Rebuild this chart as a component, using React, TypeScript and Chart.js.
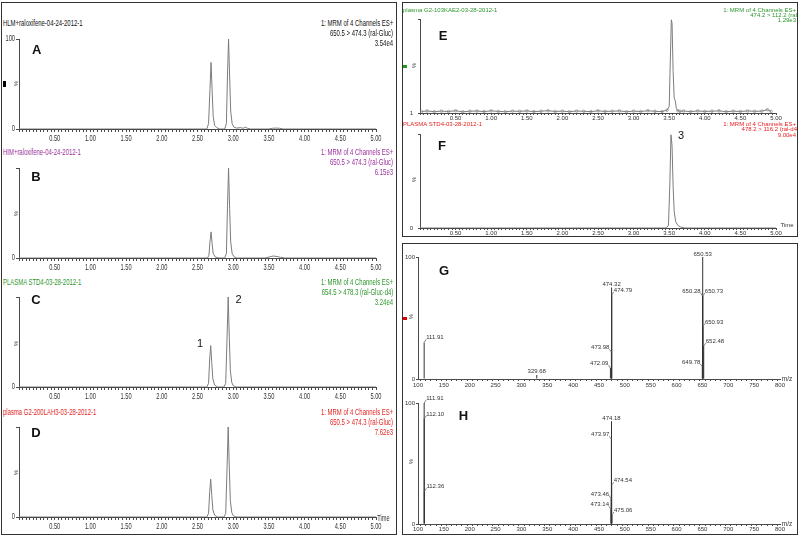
import React, { useEffect, useRef } from 'react';
import { Chart, registerables } from 'chart.js';

Chart.register(...registerables);

// ---------------- DATA ----------------
const TIME_TICKS = [0.5, 1, 1.5, 2, 2.5, 3, 3.5, 4, 4.5, 5];
const TIME_TICK_LABELS = ['0.50', '1.00', '1.50', '2.00', '2.50', '3.00', '3.50', '4.00', '4.50', '5.00'];
const MZ_TICKS = [100, 150, 200, 250, 300, 350, 400, 450, 500, 550, 600, 650, 700, 750, 800];
const MZ_TICK_LABELS = ['100', '150', '200', '250', '300', '350', '400', '450', '500', '550', '600', '650', '700', '750', '800'];
const PCT_TICKS = [0, 100];
const PCT_LABELS = ['0', '100'];
const ZERO_TICKS = [0];
const ZERO_LABELS = ['0'];
const ONE_TICKS = [1];
const ONE_LABELS = ['1'];

// Panel A  HLM + raloxifene, 650.5 > 474.3
const TIME_A = [0, 2.63, 2.655, 2.675, 2.69, 2.705, 2.72, 2.74, 2.77, 2.81, 2.88, 2.905, 2.92, 2.935, 2.95, 2.965, 2.985, 3.01, 3.05, 3.10, 3.14, 3.17, 3.20, 3.24, 3.50, 3.55, 3.60, 3.65, 3.70, 5.0];
const INT_A = [0, 0, 6, 45, 74, 42, 14, 4, 1.5, 0, 0, 6, 60, 100, 58, 20, 6, 2, 1, 1.5, 0.8, 2, 0.8, 0, 0, 0.8, 1, 0.8, 0, 0];
// Panel B  HIM + raloxifene
const TIME_B = [0, 2.64, 2.66, 2.675, 2.69, 2.705, 2.72, 2.75, 2.80, 2.88, 2.905, 2.92, 2.935, 2.95, 2.965, 2.985, 3.01, 3.05, 3.45, 3.52, 3.56, 3.60, 3.66, 3.72, 5.0];
const INT_B = [0, 0, 3, 18, 29, 16, 5, 1, 0, 0, 5, 58, 100, 55, 18, 5, 1.5, 0, 0, 1.5, 2.2, 1.8, 0.8, 0, 0];
// Panel C  plasma STD4, 654.5 > 478.3
const TIME_C = [0, 2.63, 2.655, 2.67, 2.685, 2.70, 2.715, 2.74, 2.78, 2.87, 2.895, 2.915, 2.93, 2.945, 2.96, 2.98, 3.00, 3.04, 5.0];
const INT_C = [0, 0, 4, 30, 46, 27, 9, 2, 0, 0, 4, 58, 100, 56, 18, 5, 1.5, 0, 0];
// Panel D  plasma G2-200LAH3
const TIME_D = [0, 2.63, 2.655, 2.67, 2.685, 2.70, 2.715, 2.74, 2.78, 2.87, 2.895, 2.915, 2.93, 2.945, 2.96, 2.98, 3.00, 3.04, 5.0];
const INT_D = [0, 0, 4, 27, 42, 24, 8, 2, 0, 0, 4, 58, 100, 56, 18, 5, 1.5, 0, 0];
// Panel E  plasma G2-103KAE2, 474.2 > 112.2
const TIME_E = [0.02, 0.1, 0.2, 0.3, 0.4, 0.5, 0.6, 0.7, 0.8, 0.9, 1.0, 1.1, 1.2, 1.3, 1.4, 1.5, 1.6, 1.7, 1.8, 1.9, 2.0, 2.1, 2.2, 2.3, 2.4, 2.5, 2.6, 2.7, 2.8, 2.9, 3.0, 3.1, 3.2, 3.3, 3.4,
  3.47, 3.50, 3.515, 3.53, 3.54, 3.555, 3.57, 3.585, 3.60, 3.62, 3.65,
  3.7, 3.8, 3.9, 4.0, 4.1, 4.2, 4.3, 4.4, 4.5, 4.6, 4.7, 4.8, 4.88, 4.93];
const INT_E = [2.5, 3.2, 2.4, 3.0, 2.6, 3.4, 2.3, 2.9, 3.1, 2.5, 3.3, 2.7, 2.4, 3.0, 2.8, 3.2, 2.5, 2.9, 3.4, 2.6, 3.0, 2.4, 3.1, 2.8, 2.5, 3.3, 2.7, 2.9, 3.2, 2.4, 3.0, 2.6, 3.4, 2.8, 2.5,
  4, 8, 55, 100, 96, 45, 17, 14, 6, 3.5, 2.8,
  3.1, 2.5, 3.2, 2.7, 2.9, 3.3, 2.4, 3.0, 2.6, 3.2, 2.8, 3.0, 4.5, 2.6];
// Panel F  plasma STD4, 478.2 > 116.2
const TIME_F = [0, 3.46, 3.49, 3.51, 3.525, 3.54, 3.555, 3.57, 3.59, 3.62, 3.66, 3.72, 5.0];
const INT_F = [0, 0, 3, 50, 100, 88, 45, 18, 7, 3, 1, 0, 0];
// Panel G  product spectrum
const G_MZ = [111.91, 329.68, 472.09, 473.98, 474.32, 474.79, 649.78, 650.28, 650.53, 650.73, 650.93, 652.48];
const G_INT = [30, 3.3, 9, 22, 75, 69, 10, 68, 100, 68, 43, 27];
const G_SIDE = ['r', 'c', 'l', 'l', 'c', 'r', 'l', 'l', 'c', 'r', 'r', 'r'];
// Panel H  product spectrum
const H_MZ = [111.91, 112.10, 112.36, 473.14, 473.46, 473.97, 474.18, 474.54, 475.06];
const H_INT = [100, 87, 27, 12, 21, 70, 85, 32, 7.5];
const H_SIDE = ['r', 'r', 'r', 'l', 'l', 'l', 'c', 'r', 'r'];

// ---------------- STYLE ----------------
const SANS = "'Liberation Sans', Arial, sans-serif";
const TRACE = '#7c7c7c';
const STICK = '#333';
const AXIS = '#4a4a4a';
const AXIS_TXT = '#333';
const PURPLE = '#9c2f9c';
const GREEN = '#2c962c';
const RED = '#e52222';

const labelFrom = (ticks: number[], labels: string[]) => (v: number) => {
  const i = ticks.findIndex((t) => Math.abs(t - v) < 1e-6);
  return i >= 0 ? labels[i] : '';
};

type Ann = { mz: number[]; int: number[]; side: string[] };
type Panel = {
  id: string; kind: 'trace' | 'stick';
  x0: number; x1: number; yTop: number; yBot: number;
  padL: number; padR: number; padT: number; padB: number;
  xMin: number; xMax: number; xStep: number; xLabel: (v: number) => string;
  yMin: number; yMax: number; yStep: number; yLabel: (v: number) => string;
  fs: number; tl: number; xPad: number; yPad: number; squeeze: number;
  xs: number[]; ys: number[]; marks?: boolean; ann?: Ann;
};

const timeLabel = labelFrom(TIME_TICKS, TIME_TICK_LABELS);
const mzLabel = labelFrom(MZ_TICKS, MZ_TICK_LABELS);

const leftPanel = (id: string, yTop: number, xs: number[], ys: number[], yl: (v: number) => string): Panel => ({
  id, kind: 'trace', x0: 19, x1: 376, yTop, yBot: yTop + 90, padL: 19, padR: 22, padT: 8, padB: 16,
  xMin: 0, xMax: 5, xStep: 0.05, xLabel: timeLabel, yMin: 0, yMax: 100, yStep: 100, yLabel: yl,
  fs: 9, tl: 3, xPad: 1.5, yPad: 1, squeeze: 0.63, xs, ys,
});

const PANELS: Panel[] = [
  leftPanel('A', 39, TIME_A, INT_A, labelFrom(PCT_TICKS, PCT_LABELS)),
  leftPanel('B', 168, TIME_B, INT_B, labelFrom(ZERO_TICKS, ZERO_LABELS)),
  leftPanel('C', 297, TIME_C, INT_C, labelFrom(ZERO_TICKS, ZERO_LABELS)),
  leftPanel('D', 427, TIME_D, INT_D, labelFrom(ZERO_TICKS, ZERO_LABELS)),
  {
    id: 'E', kind: 'trace', x0: 420, x1: 776, yTop: 17, yBot: 113, padL: 18, padR: 20, padT: 6, padB: 12,
    xMin: 0, xMax: 5, xStep: 0.05, xLabel: timeLabel, yMin: 1, yMax: 100, yStep: 99, yLabel: labelFrom(ONE_TICKS, ONE_LABELS),
    fs: 6, tl: 2, xPad: 0, yPad: 5, squeeze: 1, xs: TIME_E, ys: INT_E, marks: true,
  },
  {
    id: 'F', kind: 'trace', x0: 420, x1: 776, yTop: 132, yBot: 228, padL: 18, padR: 20, padT: 6, padB: 12,
    xMin: 0, xMax: 5, xStep: 0.05, xLabel: timeLabel, yMin: 0, yMax: 100, yStep: 100, yLabel: labelFrom(ZERO_TICKS, ZERO_LABELS),
    fs: 6, tl: 2, xPad: 0, yPad: 5, squeeze: 1, xs: TIME_F, ys: INT_F,
  },
  {
    id: 'G', kind: 'stick', x0: 418, x1: 780, yTop: 257, yBot: 379, padL: 15, padR: 16, padT: 13, padB: 12,
    xMin: 100, xMax: 800, xStep: 10, xLabel: mzLabel, yMin: 0, yMax: 100, yStep: 100, yLabel: labelFrom(PCT_TICKS, PCT_LABELS),
    fs: 6, tl: 2, xPad: 1, yPad: 1, squeeze: 1, xs: G_MZ, ys: G_INT, ann: { mz: G_MZ, int: G_INT, side: G_SIDE },
  },
  {
    id: 'H', kind: 'stick', x0: 418, x1: 780, yTop: 403, yBot: 524, padL: 15, padR: 16, padT: 13, padB: 12,
    xMin: 100, xMax: 800, xStep: 10, xLabel: mzLabel, yMin: 0, yMax: 100, yStep: 100, yLabel: labelFrom(PCT_TICKS, PCT_LABELS),
    fs: 6, tl: 2, xPad: 0, yPad: 1, squeeze: 1, xs: H_MZ, ys: H_INT, ann: { mz: H_MZ, int: H_INT, side: H_SIDE },
  },
];

// condensed tick text (the original figure's lettering is horizontally compressed)
const makeSqueezePlugin = (k: number) => ({
  id: 'squeezeText',
  beforeInit(chart: any) {
    if (k === 1) return;
    const ctx = chart.ctx;
    const orig = ctx.fillText.bind(ctx);
    ctx.fillText = (text: string, x: number, y: number, maxW?: number) => {
      ctx.save();
      ctx.translate(x, y);
      ctx.scale(k, 1);
      if (maxW !== undefined && maxW !== null) orig(text, 0, 0, maxW / k); else orig(text, 0, 0);
      ctx.restore();
    };
  },
});

const makeAnnPlugin = (ann: Ann) => ({
  id: 'stickLabels',
  afterDatasetsDraw(chart: any) {
    const { ctx, scales } = chart;
    const xs = scales.x, ys = scales.y;
    ctx.save();
    ctx.font = `6px ${SANS}`;
    ctx.fillStyle = '#333';
    ctx.strokeStyle = '#666';
    ctx.lineWidth = 0.8;
    ctx.textBaseline = 'alphabetic';
    ann.mz.forEach((m, i) => {
      const px = xs.getPixelForValue(m);
      const py = ys.getPixelForValue(ann.int[i]);
      const txt = m.toFixed(2);
      const side = ann.side[i];
      if (side === 'c') {
        ctx.textAlign = 'center';
        ctx.fillText(txt, px, py - 1.5);
      } else {
        const dir = side === 'r' ? 1 : -1;
        ctx.beginPath();
        ctx.moveTo(px, py);
        ctx.lineTo(px + dir * 2, py - 3);
        ctx.stroke();
        ctx.textAlign = side === 'r' ? 'left' : 'right';
        ctx.fillText(txt, px + dir * 2, py - 3);
      }
    });
    ctx.restore();
  },
});

function ChartPanel({ p }: { p: Panel }) {
  const ref = useRef<HTMLCanvasElement>(null);
  const W = Math.round(p.x1 - p.x0 + p.padL + p.padR);
  const H = Math.round(p.yBot - p.yTop + p.padT + p.padB);
  useEffect(() => {
    const cv = ref.current;
    if (!cv) return;
    const pts = p.xs.map((x, i) => ({ x, y: p.ys[i] }));
    const ds: any = p.kind === 'trace'
      ? {
        type: 'line', data: pts, borderColor: TRACE, borderWidth: 1, tension: 0, fill: false,
        pointRadius: p.marks ? (c: any) => (c.raw && c.raw.y < 5 ? 1.3 : 0) : 0,
        pointBackgroundColor: 'rgba(255,255,255,0)', pointBorderColor: '#8a8a8a', pointBorderWidth: 0.7,
      }
      : { type: 'bar', data: pts, backgroundColor: STICK, barThickness: 1, borderWidth: 0, inflateAmount: 0 };
    const axisCommon = (pos: string) => ({
      position: pos,
      grid: { display: true, drawOnChartArea: false, drawTicks: true, tickLength: p.tl, color: AXIS, tickColor: AXIS, lineWidth: 1 },
      border: { display: true, color: AXIS, width: 1 },
    });
    const plugins: any[] = [makeSqueezePlugin(p.squeeze)];
    if (p.ann) plugins.push(makeAnnPlugin(p.ann));
    const chart = new Chart(cv, {
      type: p.kind === 'trace' ? 'line' : 'bar',
      data: { datasets: [ds] },
      options: {
        animation: false, responsive: false, maintainAspectRatio: false, devicePixelRatio: 1, events: [],
        layout: { padding: { left: 0, right: p.padR, top: p.padT, bottom: 0 } },
        plugins: { legend: { display: false }, tooltip: { enabled: false } },
        scales: {
          x: {
            ...axisCommon('bottom'), type: 'linear', min: p.xMin, max: p.xMax, offset: false,
            afterFit: (s: any) => { s.height = p.padB; },
            ticks: {
              stepSize: p.xStep, autoSkip: false, maxRotation: 0, minRotation: 0, padding: p.xPad,
              color: AXIS_TXT, font: { family: SANS, size: p.fs },
              callback: (v: any) => p.xLabel(Number(v)),
            },
          },
          y: {
            ...axisCommon('left'), type: 'linear', min: p.yMin, max: p.yMax,
            afterFit: (s: any) => { s.width = p.padL; },
            ticks: {
              stepSize: p.yStep, autoSkip: false, padding: p.yPad,
              color: AXIS_TXT, font: { family: SANS, size: p.fs },
              callback: (v: any) => p.yLabel(Number(v)),
            },
          },
        },
      } as any,
      plugins,
    } as any);
    return () => chart.destroy();
  }, []);
  return (
    <canvas
      ref={ref}
      width={W}
      height={H}
      style={{ position: 'absolute', left: p.x0 - p.padL, top: p.yTop - p.padT, width: W, height: H }}
    />
  );
}

// ---------------- TEXT ----------------
type T = { x: number; y: number; t: string; a?: 'l' | 'r' | 'c'; s?: number; c?: string; b?: boolean; sx?: number; rot?: boolean };
const L = 0.7; // condensing factor for the left-column header text

const header = (y: number, title: string, l2: string, l3: string, c: string): T[] => [
  { x: 3, y, t: title, c, s: 8.5, sx: L },
  { x: 393, y, t: '1: MRM of 4 Channels ES+', a: 'r', c, s: 8.5, sx: L },
  { x: 393, y: y + 10, t: l2, a: 'r', c, s: 8.5, sx: L },
  { x: 393, y: y + 20, t: l3, a: 'r', c, s: 8.5, sx: L },
];

const TEXTS: T[] = [
  ...header(23, 'HLM+raloxifene-04-24-2012-1', '650.5 > 474.3 (ral-Gluc)', '3.54e4', '#111'),
  ...header(152, 'HIM+raloxifene-04-24-2012-1', '650.5 > 474.3 (ral-Gluc)', '6.15e3', PURPLE),
  ...header(282, 'PLASMA STD4-03-28-2012-1', '654.5 > 478.3 (ral-Gluc-d4)', '3.24e4', GREEN),
  ...header(412, 'plasma G2-200LAH3-03-28-2012-1', '650.5 > 474.3 (ral-Gluc)', '7.62e3', RED),
  { x: 403, y: 11, t: 'plasma G2-103KAE2-03-28-2012-1', c: GREEN, s: 6 },
  { x: 796, y: 11, t: '1: MRM of 4 Channels ES+', a: 'r', c: GREEN, s: 6 },
  { x: 799, y: 16, t: '474.2 > 112.2 (ral)', a: 'r', c: GREEN, s: 6 },
  { x: 796, y: 21, t: '1.29e3', a: 'r', c: GREEN, s: 6 },
  { x: 403, y: 125, t: 'PLASMA STD4-03-28-2012-1', c: RED, s: 6 },
  { x: 796, y: 124.5, t: '1: MRM of 4 Channels ES+', a: 'r', c: RED, s: 6 },
  { x: 799, y: 130, t: '478.2 > 116.2 (ral-d4)', a: 'r', c: RED, s: 6 },
  { x: 796, y: 135.5, t: '9.00e4', a: 'r', c: RED, s: 6 },
  { x: 36.7, y: 49.5, t: 'A', a: 'c', s: 13, b: true, c: '#111' },
  { x: 36, y: 177, t: 'B', a: 'c', s: 13, b: true, c: '#111' },
  { x: 36, y: 300, t: 'C', a: 'c', s: 13, b: true, c: '#111' },
  { x: 36, y: 433, t: 'D', a: 'c', s: 13, b: true, c: '#111' },
  { x: 443, y: 36, t: 'E', a: 'c', s: 13, b: true, c: '#111' },
  { x: 442, y: 146, t: 'F', a: 'c', s: 13, b: true, c: '#111' },
  { x: 444, y: 271, t: 'G', a: 'c', s: 13, b: true, c: '#111' },
  { x: 463.5, y: 416, t: 'H', a: 'c', s: 13, b: true, c: '#111' },
  { x: 200, y: 343.5, t: '1', a: 'c', s: 11, c: '#111' },
  { x: 238.5, y: 299.5, t: '2', a: 'c', s: 11, c: '#111' },
  { x: 681, y: 136, t: '3', a: 'c', s: 11, c: '#111' },
  { x: 17, y: 84, t: '%', a: 'c', s: 6, rot: true, c: '#444' },
  { x: 17, y: 214, t: '%', a: 'c', s: 6, rot: true, c: '#444' },
  { x: 17, y: 344, t: '%', a: 'c', s: 6, rot: true, c: '#444' },
  { x: 17, y: 473, t: '%', a: 'c', s: 6, rot: true, c: '#444' },
  { x: 415, y: 66, t: '%', a: 'c', s: 6, rot: true, c: '#444' },
  { x: 415, y: 180, t: '%', a: 'c', s: 6, rot: true, c: '#444' },
  { x: 412, y: 317, t: '%', a: 'c', s: 6, rot: true, c: '#444' },
  { x: 412, y: 462, t: '%', a: 'c', s: 6, rot: true, c: '#444' },
  { x: 387, y: 518, t: 'Time', a: 'c', s: 9, sx: 0.63, c: '#333' },
  { x: 787, y: 226, t: 'Time', a: 'c', s: 6, c: '#333' },
  { x: 787, y: 379, t: 'm/z', a: 'c', s: 6.5, c: '#333' },
  { x: 787, y: 524, t: 'm/z', a: 'c', s: 6.5, c: '#333' },
];

function Label({ d }: { d: T }) {
  const s = d.s ?? 8.5;
  const a = d.a ?? 'l';
  const sx = d.sx ?? 1;
  const st: React.CSSProperties = {
    position: 'absolute', top: d.y - s * 0.6, whiteSpace: 'nowrap', fontSize: s, lineHeight: `${s * 1.2}px`,
    color: d.c ?? '#222', fontWeight: d.b ? 'bold' : 'normal', fontFamily: SANS,
  };
  if (a === 'l') {
    st.left = d.x; st.transformOrigin = 'left center'; st.transform = `scaleX(${sx})`;
  } else if (a === 'r') {
    st.right = 800 - d.x; st.transformOrigin = 'right center'; st.transform = `scaleX(${sx})`;
  } else {
    st.left = d.x; st.transformOrigin = 'left center';
    st.transform = `translateX(-50%) scaleX(${sx})${d.rot ? ' rotate(-90deg)' : ''}`;
    if (d.rot) st.transformOrigin = 'center center';
  }
  return <span style={st}>{d.t}</span>;
}

const box = (left: number, top: number, width: number, height: number): React.CSSProperties => ({
  position: 'absolute', left, top, width, height, border: '1px solid #333', boxSizing: 'border-box', pointerEvents: 'none',
});

export default function App() {
  return (
    <div style={{ position: 'fixed', left: 0, top: 0, width: 800, height: 536, background: '#fff', overflow: 'hidden' }}>
      {PANELS.map((p) => <ChartPanel key={p.id} p={p} />)}
      {TEXTS.map((d, i) => <Label key={i} d={d} />)}
      <div style={{ position: 'absolute', left: 3, top: 81, width: 3, height: 6, background: '#000' }} />
      <div style={{ position: 'absolute', left: 402, top: 65, width: 5, height: 3, background: '#1f9a1f' }} />
      <div style={{ position: 'absolute', left: 403, top: 317, width: 4, height: 3, background: '#e00000' }} />
      <div style={{ position: 'absolute', left: 797, top: 0, width: 3, height: 536, background: '#fff' }} />
      <div style={box(1, 2, 396, 533)} />
      <div style={box(402, 2, 396, 235)} />
      <div style={box(402, 243, 396, 292)} />
    </div>
  );
}
